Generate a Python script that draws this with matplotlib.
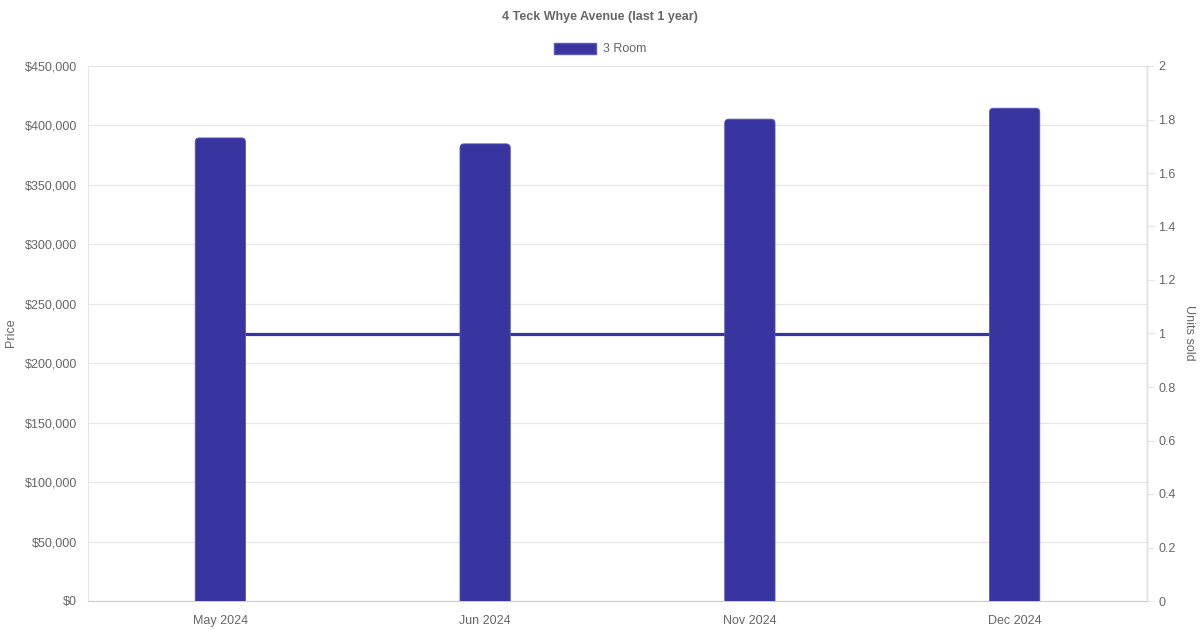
import matplotlib.pyplot as plt
import matplotlib.transforms as mtransforms
from matplotlib.patches import Patch, FancyBboxPatch
from matplotlib.ticker import FuncFormatter, MultipleLocator

months = ["May 2024", "Jun 2024", "Nov 2024", "Dec 2024"]
prices = [389500, 384500, 405300, 414500]
units_sold = [1, 1, 1, 1]

bar_color = "#3935a0"
edge_color = "#5a57b8"
text_color = "#666666"
grid_color = "#e5e5e5"

plt.rcParams["font.family"] = ["Liberation Sans", "DejaVu Sans"]

fig = plt.figure(figsize=(12, 6.3), dpi=100)
ax = fig.add_axes([88 / 1200, 29 / 630, 1059 / 1200, 535 / 630])
ax2 = ax.twinx()

ax.set_xlim(-0.5, len(months) - 0.5)
ax.set_ylim(0, 450000)
ax2.set_ylim(0, 2)

x = list(range(len(months)))
bars = ax.bar(x, prices, width=0.19, color=bar_color, edgecolor=edge_color, linewidth=0.6, zorder=3)

# swap the plain bars for ones with rounded tops (bottom pushed below 0 and clipped)
px_x = 1 / 264.75
px_y = 450000 / 535
for b in bars:
    b.set_visible(False)
    rb = FancyBboxPatch((b.get_x(), -6 * px_y), b.get_width(), b.get_height() + 6 * px_y,
                        boxstyle=f"round,pad=0,rounding_size={4 * px_x}",
                        mutation_aspect=px_y / px_x,
                        facecolor=bar_color, edgecolor=edge_color, linewidth=0.6, zorder=3)
    ax.add_patch(rb)

# line in units, drawn through the right axis scale, below the bars
trans = mtransforms.blended_transform_factory(ax.transData, ax2.transData)
ax.plot(x, units_sold, color=bar_color, linewidth=2.3, transform=trans, zorder=2)

ax.yaxis.set_major_locator(MultipleLocator(50000))
ax.yaxis.set_major_formatter(FuncFormatter(lambda v, p: f"${v:,.0f}"))
ax2.yaxis.set_major_locator(MultipleLocator(0.2))
ax2.yaxis.set_major_formatter(FuncFormatter(lambda v, p: f"{v:g}"))

ax.set_xticks(x)
ax.set_xticklabels(months)
ax.grid(axis="y", color=grid_color, linewidth=0.8, zorder=0)
ax.set_axisbelow(True)

ax.tick_params(axis="y", length=0, labelcolor=text_color, labelsize=9, pad=8)
ax.tick_params(axis="x", length=0, labelcolor=text_color, labelsize=9, pad=10)
ax2.tick_params(axis="y", colors=grid_color, labelcolor=text_color, labelsize=9, length=5, width=0.8, pad=3)

ax.spines["top"].set_visible(False)
ax2.spines["top"].set_visible(False)
ax.spines["left"].set_color(grid_color)
ax.spines["bottom"].set_color("#cccccc")
ax2.spines["right"].set_color(grid_color)
ax2.spines["left"].set_visible(False)
ax2.spines["bottom"].set_visible(False)

fig.text(11 / 1200, 1 - 333 / 630, "Price", rotation=90, ha="center", va="center",
         fontsize=9, color=text_color)
fig.text(1189 / 1200, 1 - 333 / 630, "Units sold", rotation=270, ha="center", va="center",
         fontsize=9, color=text_color)

fig.text(0.5, 1 - 17 / 630, "4 Teck Whye Avenue (last 1 year)", ha="center", va="center",
         fontsize=9, fontweight="bold", color=text_color)
fig.legend(handles=[Patch(facecolor=bar_color, edgecolor=edge_color, label="3 Room")],
           loc="center", bbox_to_anchor=(0.5, 1 - 49 / 630), frameon=False,
           fontsize=9, handlelength=3.4, handleheight=1.0, handletextpad=0.5,
           labelcolor=text_color)

fig.savefig("out.png", dpi=100)
